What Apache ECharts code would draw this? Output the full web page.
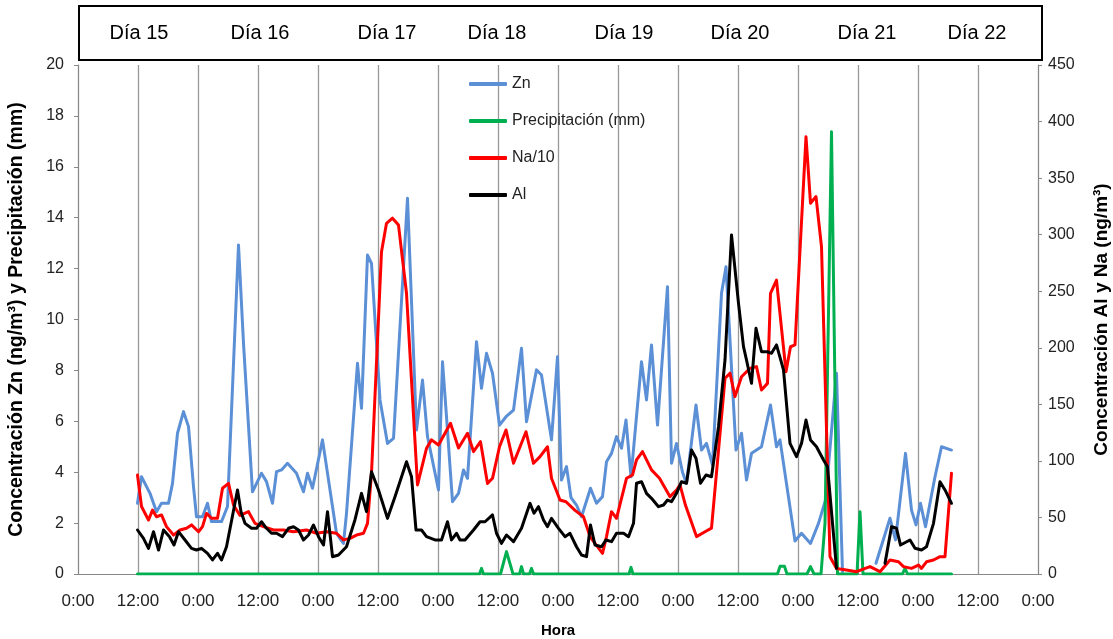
<!DOCTYPE html>
<html>
<head>
<meta charset="utf-8">
<script src="https://cdn.jsdelivr.net/npm/echarts@6/dist/echarts.min.js"></script>
<style>
  html, body { margin: 0; padding: 0; background: #fff; }
  #chart { width: 1113px; height: 639px; }
</style>
</head>
<body>
<div id="chart"></div>
<script>
// horas desde 0:00 del día 15
const znHoras = [11.9, 12.7, 14.4, 15.7, 16.7, 18.1, 18.9, 19.9, 21.1, 22.1, 23.1, 23.7, 24.9, 25.9, 26.7, 28.7, 29.9,
  32.1, 33.1, 34.9, 36.7, 37.7, 38.9, 39.7, 40.7, 41.9, 43.7, 45.1, 45.9, 46.9, 48.9, 51.7, 53.1, 53.7,
  55.9, 56.7, 57.9, 58.7, 60.4, 61.9, 63.1, 65.9, 67.7, 68.9, 69.9, 72.1, 72.9, 73.7, 74.9, 76.1, 77.1, 77.9,
  79.7, 80.7, 81.7, 82.9, 84.3, 85.6, 87.1, 88.7, 89.7, 91.7, 92.7, 94.7, 95.9, 96.7, 97.7, 98.6,
  99.7, 100.7, 102.5, 103.7, 104.9, 105.7, 106.7, 107.7, 108.7, 109.6, 110.6, 112.7, 113.7, 114.7, 115.9, 117.9,
  118.7, 119.7, 120.9, 121.7, 123.6, 124.7, 125.7, 126.9, 128.7, 129.6, 131.6, 132.7, 133.7, 134.7, 136.7, 138.5,
  139.7, 140.4, 143.4, 144.7, 146.5, 148.1, 149.5, 151.7, 152.9, 156.0,
  159.6, 162.4, 163.5, 165.5, 166.7, 167.6, 168.5, 169.5, 171.4, 172.7, 174.7];
const znValores = [2.78, 3.82, 3.17, 2.45, 2.78, 2.78, 3.56, 5.53, 6.38, 5.79, 3.43, 2.25, 2.25, 2.78, 2.06, 2.06, 2.65,
  12.93, 9.06, 3.23, 3.96, 3.63, 2.78, 4.02, 4.09, 4.35, 3.96, 3.23, 3.96, 3.37, 5.27, 1.6, 1.2, 2.38,
  8.28, 6.51, 12.53, 12.2, 6.84, 5.13, 5.33, 14.76, 5.66, 7.62, 5.4, 3.3, 8.34, 6.18, 2.84, 3.17, 4.09, 3.76,
  9.13, 7.3, 8.67, 7.89, 5.85, 6.18, 6.44, 8.87, 5.98, 8.02, 7.82, 5.27, 8.54, 3.69, 4.22, 3.0,
  2.71, 2.25, 3.37, 2.78, 3.04, 4.41, 4.74, 5.4, 4.94, 6.05, 3.82, 8.34, 6.84, 9.0, 5.85, 11.29,
  4.35, 5.13, 4.0, 3.56, 6.64, 4.87, 5.13, 4.28, 11.03, 12.07, 4.87, 5.53, 3.69, 4.74, 5.0, 6.64,
  5.0, 5.27, 1.3, 1.6, 1.2, 1.99, 2.9, 7.89, 0.1, null,
  0.42, 2.19, 1.34, 4.74, 2.51, 1.93, 2.78, 1.86, 3.82, 5.0, 4.87];

const precHoras = [11.9, 80.3, 80.7, 81.1, 84.5, 85.7, 87.0, 88.3, 88.7, 89.1, 90.3, 90.7, 91.1, 110.2, 110.6, 111.0,
  139.9, 140.4, 141.3, 141.8, 145.8, 146.5, 147.2, 148.6, 149.4, 150.7, 151.9, 155.8, 156.4, 157.0,
  164.9, 165.4, 165.9, 174.7];
const precValores = [0, 0, 0.22, 0, 0, 0.88, 0, 0, 0.29, 0, 0, 0.22, 0, 0, 0.26, 0,
  0, 0.3, 0.3, 0, 0, 0.29, 0, 0, 2.0, 17.38, 0, 0, 2.45, 0,
  0, 0.22, 0, 0];

const naHoras = [11.9, 12.7, 14.1, 14.9, 15.7, 16.7, 17.7, 19.1, 20.4, 21.7, 22.7, 24.1, 24.9, 25.7, 26.7, 27.9, 28.9, 30.1,
  31.1, 32.4, 34.1, 35.4, 37.1, 39.1, 41.1, 43.1, 45.7, 47.7, 49.7, 51.7, 53.1, 54.4, 55.7, 57.1, 57.9, 58.7,
  60.7, 61.7, 62.9, 64.1, 65.7, 67.9, 69.7, 70.7, 72.1, 74.5, 76.1, 77.9, 79.1, 80.5, 81.9, 82.9, 84.3, 85.6,
  87.1, 89.6, 91.1, 92.4, 93.9, 94.7, 96.4, 97.6, 99.4, 101.1, 102.4, 103.4, 104.9, 105.7, 106.7, 107.7, 109.7,
  110.9, 111.7, 112.9, 114.7, 116.3, 118.4, 119.7, 120.4, 121.5, 123.7, 125.4, 126.7, 129.4, 130.4, 131.4, 132.7,
  134.4, 135.7, 136.7, 137.9, 138.5, 139.7, 141.6, 142.5, 143.4, 145.6, 146.5, 147.6, 148.7, 150.4, 151.7,
  153.7, 155.7, 158.4, 160.4, 162.4, 164.1, 165.1, 166.7, 168.1, 168.7, 169.7, 171.1, 172.4, 173.4, 174.7];
const naValores = [3.89, 2.65, 2.12, 2.51, 2.25, 2.32, 1.86, 1.53, 1.73, 1.8, 1.93, 1.66, 1.86, 2.38, 2.19, 2.19, 3.37, 3.56,
  2.71, 2.3, 2.45, 1.99, 1.86, 1.73, 1.73, 1.66, 1.73, 1.6, 1.66, 1.6, 1.34, 1.4, 1.53, 1.6, 1.99, 3.96,
  12.66, 13.78, 13.98, 13.71, 11.03, 3.5, 4.94, 5.27, 5.07, 5.92, 4.95, 5.53, 4.81, 5.2, 3.56, 3.76, 5.0, 5.66,
  4.35, 5.59, 4.35, 4.61, 5.0, 3.76, 2.91, 2.84, 2.5, 2.25, 1.47, 1.2, 0.81, 1.47, 2.45, 2.19, 3.76,
  3.89, 4.48, 4.81, 4.09, 3.76, 3.04, 3.3, 3.5, 2.7, 1.47, 1.66, 1.8, 7.69, 7.89, 6.97, 7.75,
  8.08, 8.15, 7.23, 7.49, 11.03, 11.55, 7.95, 8.93, 9.0, 17.18, 14.57, 14.83, 12.86, 0.68, 0.22,
  0.16, 0.09, 0.29, 0.09, 0.55, 0.48, 0.29, 0.22, 0.35, 0.22, 0.48, 0.55, 0.68, 0.68, 3.96];

const alHoras = [11.9, 13.1, 14.1, 15.1, 16.1, 17.1, 18.3, 19.2, 20.1, 21.4, 22.7, 23.7, 24.7, 25.9, 26.9, 27.9, 28.7, 29.7,
  31.9, 32.6, 33.4, 34.7, 35.7, 36.7, 37.7, 38.7, 39.7, 40.9, 42.1, 43.1, 44.1, 45.1, 46.1, 47.1, 48.1, 49.1,
  49.9, 50.9, 52.1, 53.7, 55.4, 56.7, 57.7, 58.7, 60.1, 61.9, 63.4, 65.7, 66.7, 67.6, 68.7, 69.7, 71.4, 72.7,
  73.9, 74.7, 75.7, 76.4, 77.4, 79.1, 80.4, 81.4, 82.9, 83.7, 84.7, 85.7, 87.1, 88.7, 90.4, 91.2, 92.1, 93.1,
  93.9, 94.7, 96.1, 97.4, 98.4, 99.7, 100.7, 101.7, 102.5, 103.4, 104.7, 105.6, 106.7, 107.7, 109.1, 110.1,
  111.1, 111.7, 112.7, 113.7, 114.7, 116.1, 117.1, 117.9, 118.7, 119.7, 120.7, 121.7, 122.7, 123.6, 124.5,
  125.6, 126.7, 128.1, 129.4, 130.7, 132.1, 133.1, 133.7, 134.7, 135.6, 136.7, 137.9, 138.7, 139.7, 141.1,
  142.4, 143.7, 144.7, 145.6, 146.5, 147.7, 149.1, 149.9, 151.7, 156.0,
  161.4, 162.7, 163.7, 164.5, 166.4, 167.4, 168.7, 169.7, 171.1, 172.4, 173.4, 174.7];
const alValores = [38.9, 31.5, 22.7, 37.4, 21.2, 38.9, 33.0, 25.6, 37.4, 30.1, 22.7, 21.2, 22.7, 18.3, 12.4, 18.3, 12.4, 24.1,
  74.3, 55, 44.8, 40.4, 40.4, 46.2, 40.4, 36.0, 36.0, 33.0, 40.4, 41.8, 38.9, 30.1, 34.5, 43.3, 33.0, 25.6,
  55.1, 15.3, 16.8, 24.1, 48, 71.3, 55.1, 90.4, 74.3, 49.2, 68.3, 99.3, 86.0, 38.9, 38.9, 33.0, 30.1, 30.1,
  46.2, 30.1, 36.0, 30.1, 30.0, 38.9, 46.2, 46.2, 52.2, 36.0, 27.1, 34.5, 28.6, 40.4, 62.5, 53.7, 59.5, 47.7,
  41.8, 49.2, 40.4, 33.0, 36.0, 24.1, 16.8, 15.3, 43.3, 25.6, 24.1, 30.1, 28.6, 36.0, 36.0, 33.0,
  44.8, 80.2, 81.6, 71.3, 66.9, 59.5, 61.0, 65.4, 63.9, 71.3, 81.6, 80.2, 109.6, 102.3, 80.2,
  87.5, 86.0, 130.2, 189.2, 299.7, 239.3, 201.0, 189.2, 168.6, 217.2, 196.5, 196.5, 195.1, 202.5, 180.4,
  115.5, 103.7, 115.5, 136.1, 118.5, 112.5, 100.8, 94.9, 5.0, null,
  9.4, 41.8, 40.4, 25.6, 30.1, 22.7, 21.2, 24.1, 44.8, 81.6, 74.3, 62.5];

const etiquetasDia = ['Día 15', 'Día 16', 'Día 17', 'Día 18', 'Día 19', 'Día 20', 'Día 21', 'Día 22'];
const centrosDia = [139, 260, 387, 497, 624, 740, 867, 977];

const pares = (h, v) => h.map((x, i) => [x, v[i]]);
const fuente = "'Liberation Sans Narrow', 'Arial Narrow', sans-serif";
const fuenteTitulo = "'Liberation Sans', Arial, sans-serif";

const chart = echarts.init(document.getElementById('chart'));

const linea = (name, color, horas, valores, eje) => ({
  name: name,
  type: 'line',
  yAxisIndex: eje,
  data: pares(horas, valores),
  showSymbol: false,
  symbol: 'none',
  connectNulls: false,
  lineStyle: { color: color, width: 3, join: 'round', cap: 'round' },
  itemStyle: { color: color },
  emphasis: { disabled: true },
  animation: false
})

const graficos = [{
  type: 'rect',
  shape: { x: 79, y: 6, width: 963, height: 54 },
  style: { fill: '#fff', stroke: '#000', lineWidth: 2 }
}];
etiquetasDia.forEach((t, i) => {
  graficos.push({
    type: 'text',
    x: centrosDia[i],
    y: 33,
    style: { text: t, font: "20px " + fuente, fill: '#000', textAlign: 'center', textVerticalAlign: 'middle' }
  })
})

chart.setOption({
  animation: false,
  grid: { left: 78, right: 75, top: 65, bottom: 65, show: false, outerBoundsMode: 'none', containLabel: false },
  legend: {
    orient: 'vertical',
    left: 464,
    top: 71,
    itemWidth: 38,
    itemHeight: 4,
    itemGap: 21,
    icon: 'roundRect',
    textStyle: { fontFamily: fuente, fontSize: 16, color: '#222' },
    data: ['Zn', 'Precipitación (mm)', 'Na/10', 'Al']
  },
  xAxis: {
    type: 'value',
    min: 0,
    max: 192,
    interval: 12,
    name: 'Hora',
    nameLocation: 'middle',
    nameGap: 49,
    nameTextStyle: { fontFamily: fuente, fontSize: 15, fontWeight: 'bold', color: '#000' },
    axisLine: { lineStyle: { color: '#888', width: 1 } },
    axisTick: { show: false },
    axisLabel: {
      margin: 19,
      fontFamily: fuente,
      fontSize: 17,
      color: '#222',
      formatter: (v) => (v % 24 === 0 ? '0:00' : '12:00')
    },
    splitLine: { show: true, lineStyle: { color: '#999', width: 1.3 } }
  },
  yAxis: [{
    type: 'value',
    min: 0,
    max: 20,
    interval: 2,
    name: 'Concentración Zn (ng/m³) y Precipitación (mm)',
    nameLocation: 'middle',
    nameRotate: 90,
    nameGap: 51,
    nameTextStyle: { fontFamily: fuenteTitulo, fontSize: 19.5, fontWeight: 'bold', color: '#000' },
    axisLine: { show: true, lineStyle: { color: '#888' } },
    axisTick: { show: true, length: 4, lineStyle: { color: '#888' } },
    axisLabel: { margin: 14, fontFamily: fuente, fontSize: 16, color: '#222' },
    splitLine: { show: false }
  }, {
    type: 'value',
    min: 0,
    max: 450,
    interval: 50,
    position: 'right',
    name: 'Concentración Al y Na (ng/m³)',
    nameLocation: 'middle',
    nameRotate: 90,
    nameGap: 54,
    nameTextStyle: { fontFamily: fuenteTitulo, fontSize: 19, fontWeight: 'bold', color: '#000' },
    axisLine: { show: true, lineStyle: { color: '#888' } },
    axisTick: { show: true, length: 4, lineStyle: { color: '#888' } },
    axisLabel: { margin: 10, fontFamily: fuente, fontSize: 16, color: '#222' },
    splitLine: { show: false }
  }],
  graphic: graficos,
  series: [
    linea('Zn', '#5B8FD6', znHoras, znValores, 0),
    linea('Precipitación (mm)', '#00B050', precHoras, precValores, 0),
    linea('Na/10', '#FF0000', naHoras, naValores, 0),
    linea('Al', '#000000', alHoras, alValores, 1)
  ]
})
</script>
</body>
</html>
